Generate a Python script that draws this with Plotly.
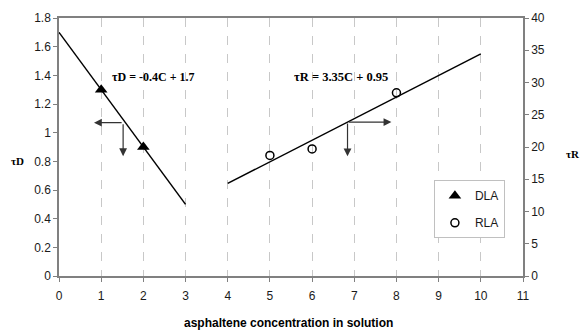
import plotly.graph_objects as go

# ---- data ----
dla_x = [1, 2]
dla_y = [1.3, 0.9]
rla_x = [5, 6, 8]
rla_y = [18.7, 19.7, 28.4]

dla_fit_x = [0, 3]
dla_fit_y = [1.7, 0.5]
rla_fit_x = [4, 10]
rla_fit_y = [14.35, 34.45]

x_ticks = list(range(0, 12))
left_ticks = [0, 0.2, 0.4, 0.6, 0.8, 1, 1.2, 1.4, 1.6, 1.8]
right_ticks = [0, 5, 10, 15, 20, 25, 30, 35, 40]

dla_eq = "τD = -0.4C + 1.7"
rla_eq = "τR = 3.35C + 0.95"

# arrow construction points (tail on fit line, heads)
dla_arrow_start = (1.52, 1.07)
dla_arrow_left_x = 0.83
dla_arrow_down_y = 0.836
rla_arrow_start = (6.84, 23.86)
rla_arrow_right_x = 7.88
rla_arrow_down_y = 18.57

AX = "#808080"
TXT = "#1a1a1a"
SANS = "Liberation Sans, Arial, sans-serif"
SERIF = "Liberation Serif, Times New Roman, serif"

fig = go.Figure()

fig.add_trace(go.Scatter(x=dla_fit_x, y=dla_fit_y, mode="lines",
                         line=dict(color="black", width=1.5), showlegend=False,
                         hoverinfo="skip"))
fig.add_trace(go.Scatter(x=rla_fit_x, y=rla_fit_y, mode="lines", yaxis="y2",
                         line=dict(color="black", width=1.5), showlegend=False,
                         hoverinfo="skip"))
fig.add_trace(go.Scatter(x=dla_x, y=dla_y, mode="markers", name="DLA",
                         legendgroup="a",
                         marker=dict(symbol="triangle-up", size=11, color="black")))
fig.add_trace(go.Scatter(x=rla_x, y=rla_y, mode="markers", name="RLA", yaxis="y2",
                         legendgroup="b",
                         marker=dict(symbol="circle-open", size=8, color="black",
                                     line=dict(width=1.5, color="black"))))

ann = []
# equations
ann.append(dict(x=1.21, y=1.387, xref="x", yref="y", text=f"<b>{dla_eq}</b>",
                showarrow=False, xanchor="left", yanchor="middle",
                font=dict(family=SERIF, size=12, color="black")))
ann.append(dict(x=5.52, y=30.8, xref="x", yref="y2", text=f"<b>{rla_eq}</b>",
                showarrow=False, xanchor="left", yanchor="middle",
                font=dict(family=SERIF, size=12.5, color="black")))

arrow_style = dict(showarrow=True, arrowhead=2, arrowsize=1.3, arrowwidth=1.2,
                   arrowcolor="#333333", text="", axref="x")
# DLA arrows
ann.append(dict(x=dla_arrow_left_x, y=dla_arrow_start[1], xref="x", yref="y",
                ax=dla_arrow_start[0], ay=dla_arrow_start[1], ayref="y", **arrow_style))
ann.append(dict(x=dla_arrow_start[0], y=dla_arrow_down_y, xref="x", yref="y",
                ax=dla_arrow_start[0], ay=dla_arrow_start[1], ayref="y", **arrow_style))
# RLA arrows
ann.append(dict(x=rla_arrow_right_x, y=rla_arrow_start[1], xref="x", yref="y2",
                ax=rla_arrow_start[0], ay=rla_arrow_start[1], ayref="y2", **arrow_style))
ann.append(dict(x=rla_arrow_start[0], y=rla_arrow_down_y, xref="x", yref="y2",
                ax=rla_arrow_start[0], ay=rla_arrow_start[1], ayref="y2", **arrow_style))

# axis titles
ann.append(dict(x=-0.0905, y=0.447, xref="paper", yref="paper", text="<b>τD</b>",
                showarrow=False, xanchor="center", yanchor="middle",
                font=dict(family=SERIF, size=11, color="black")))
ann.append(dict(x=1.108, y=0.471, xref="paper", yref="paper", text="<b>τR</b>",
                showarrow=False, xanchor="center", yanchor="middle",
                font=dict(family=SERIF, size=11, color="black")))
ann.append(dict(x=0.495, y=-0.183, xref="paper", yref="paper",
                text="<b>asphaltene concentration in solution</b>",
                showarrow=False, xanchor="center", yanchor="middle",
                font=dict(family=SANS, size=12, color="black")))

fig.update_layout(
    width=583, height=331,
    margin=dict(l=59, r=60, t=18, b=55),
    paper_bgcolor="white", plot_bgcolor="white",
    font=dict(family=SANS, size=12, color=TXT),
    annotations=ann,
    legend=dict(x=0.808, y=0.371, xanchor="left", yanchor="top",
                bordercolor="#c0c0c0", borderwidth=1, bgcolor="white",
                traceorder="grouped", tracegroupgap=8,
                font=dict(family=SANS, size=12, color=TXT)),
    xaxis=dict(range=[0, 11], tickvals=x_ticks, showline=True, mirror=True,
               linecolor=AX, linewidth=1.5, ticks="outside", ticklen=4,
               tickcolor=AX, showgrid=True, gridcolor="#c8c8c8", griddash="dash",
               gridwidth=1, zeroline=False, ticklabelstandoff=4),
    yaxis=dict(range=[0, 1.8], tickvals=left_ticks, showline=True,
               linecolor=AX, linewidth=1.5, ticks="outside", ticklen=4,
               tickcolor=AX, showgrid=False, zeroline=False),
    yaxis2=dict(range=[0, 40], tickvals=right_ticks, overlaying="y", side="right",
                showline=True, linecolor=AX, linewidth=1.5, ticks="outside",
                ticklen=4, tickcolor=AX, showgrid=False, zeroline=False),
)

fig.write_html("out.html", config={"displayModeBar": False},
               post_script="document.body.style.margin='0px';")
